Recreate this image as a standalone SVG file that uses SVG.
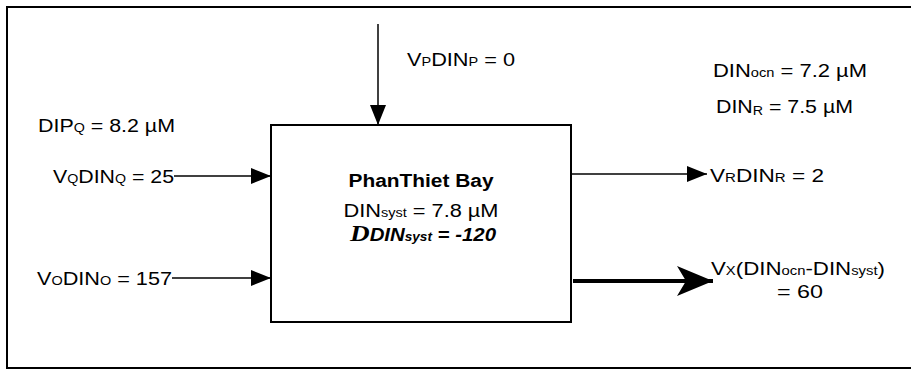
<svg xmlns="http://www.w3.org/2000/svg" width="911" height="370" viewBox="0 0 911 370">
<style>
text{font-family:"Liberation Sans",Arial,sans-serif;font-size:18px;fill:#000}
.s{font-size:12px}
.ln{stroke:#000;stroke-width:1.5;fill:none}
.thick{stroke:#000;stroke-width:4;fill:none}
.b{font-weight:bold}
.bi{font-weight:bold;font-style:italic}
</style>
<defs>
<marker id="ah" viewBox="0 0 20 16" refX="20" refY="8" markerWidth="20" markerHeight="16" markerUnits="userSpaceOnUse" orient="auto">
<path d="M0,0 L20,8 L0,16 Z" fill="#000"/>
</marker>
<marker id="ahx" viewBox="0 0 36 30" refX="36" refY="15" markerWidth="36" markerHeight="30" markerUnits="userSpaceOnUse" orient="auto">
<path d="M0,0 L36,15 L0,30 L9,15 Z" fill="#000"/>
</marker>
</defs>
<rect x="7" y="7" width="910" height="361" fill="none" stroke="#000" stroke-width="2"/>
<g id="bay">
<rect x="271" y="125" width="300" height="197" fill="#fff" stroke="#000" stroke-width="2"/>
<text class="b" x="421" y="187" text-anchor="middle" textLength="145" lengthAdjust="spacingAndGlyphs">PhanThiet Bay</text>
<text x="421" y="217" text-anchor="middle" textLength="155" lengthAdjust="spacingAndGlyphs">DIN<tspan class="s">syst</tspan> = 7.8 µM</text>
<text x="350" y="241" textLength="146" lengthAdjust="spacingAndGlyphs"><tspan style="font-family:'Liberation Serif',serif;font-weight:bold;font-style:italic;font-size:24px">D</tspan><tspan class="bi">DIN</tspan><tspan class="bi s">syst</tspan><tspan class="bi"> = -120</tspan></text>
</g>
<g id="connectors">
<line class="ln" x1="378" y1="24" x2="378" y2="125" marker-end="url(#ah)"/>
<line class="ln" x1="174" y1="176" x2="271" y2="176" marker-end="url(#ah)"/>
<line class="ln" x1="172" y1="278" x2="271" y2="278" marker-end="url(#ah)"/>
<line class="ln" x1="571" y1="174" x2="707" y2="174" marker-end="url(#ah)"/>
<line class="thick" x1="573" y1="281" x2="713" y2="281" marker-end="url(#ahx)"/>
</g>
<g id="lbl-p"><text x="407" y="66" textLength="108" lengthAdjust="spacingAndGlyphs">V<tspan class="s">P</tspan>DIN<tspan class="s">P</tspan> = 0</text></g>
<g id="lbl-dipq"><text x="38" y="132" textLength="137" lengthAdjust="spacingAndGlyphs">DIP<tspan class="s">Q</tspan> = 8.2 µM</text></g>
<g id="lbl-q"><text x="53" y="183" textLength="121" lengthAdjust="spacingAndGlyphs">V<tspan class="s">Q</tspan>DIN<tspan class="s">Q</tspan> = 25</text></g>
<g id="lbl-o"><text x="37" y="285" textLength="135" lengthAdjust="spacingAndGlyphs">V<tspan class="s">O</tspan>DIN<tspan class="s">O</tspan> = 157</text></g>
<g id="lbl-ocn"><text x="713" y="77" textLength="154" lengthAdjust="spacingAndGlyphs">DIN<tspan class="s">ocn</tspan> = 7.2 µM</text></g>
<g id="lbl-dinr"><text x="716" y="113" textLength="137" lengthAdjust="spacingAndGlyphs">DIN<tspan class="s" dy="2">R</tspan><tspan dy="-2"> = 7.5 µM</tspan></text></g>
<g id="lbl-r"><text x="710" y="182" textLength="114" lengthAdjust="spacingAndGlyphs">V<tspan class="s">R</tspan>DIN<tspan class="s">R</tspan> = 2</text></g>
<g id="lbl-x">
<text x="711" y="275" textLength="174" lengthAdjust="spacingAndGlyphs">V<tspan class="s">X</tspan>(DIN<tspan class="s">ocn</tspan>-DIN<tspan class="s">syst</tspan>)</text>
<text x="777" y="298" textLength="46" lengthAdjust="spacingAndGlyphs">= 60</text>
</g>
</svg>
